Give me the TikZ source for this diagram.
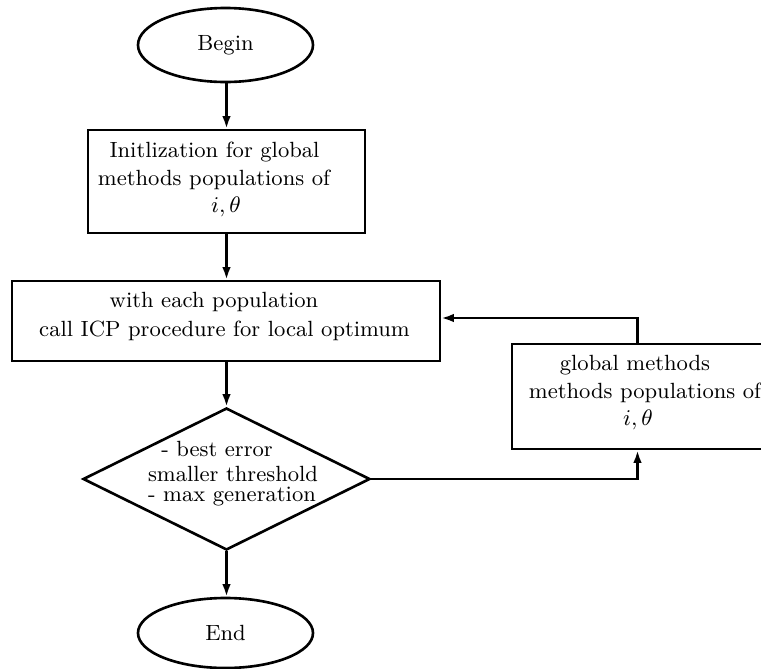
\documentclass[tikz,border=0pt]{standalone}
\usetikzlibrary{shapes.geometric,arrows.meta}
\begin{document}
\begin{tikzpicture}[x=0.4pt,y=-0.4pt,
  every node/.style={font=\fontsize{8.8}{10.5}\selectfont},
  term/.style={draw,ellipse,line width=1.05pt,inner sep=0pt},
  proc/.style={draw,rectangle,line width=1.05pt,inner sep=0pt},
  decis/.style={draw,diamond,line width=1.05pt,inner sep=0pt},
  txt/.style={anchor=base,inner sep=0pt},
  conn/.style={line width=0.95pt,-{Latex[length=5pt,width=3.4pt]}}]
\useasboundingbox (0,0) rectangle (761,668);
% shapes
\node[term,minimum width=70pt,minimum height=29.6pt] (begin) at (225.5,45) {Begin};
\node[proc,minimum width=110.8pt,minimum height=41.2pt] (init) at (226.5,181.5) {};
\node[proc,minimum width=171.2pt,minimum height=32pt] (icp) at (226,321) {};
\node[decis,minimum width=114.8pt,minimum height=56.8pt] (dec) at (226.5,479) {};
\node[proc,minimum width=100.4pt,minimum height=42pt] (glob) at (637.5,396.5) {};
\node[term,minimum width=70pt,minimum height=28pt] (end) at (225.5,633) {End};
% texts
\node[txt] (init1) at (214.5,157) {Initlization for global};
\node[txt] (init2) at (214,185.5) {methods populations of};
\node[txt] (init3) at (226,212.5) {$i,\theta$};
\node[txt] (icp1) at (214,307.3) {with each population};
\node[txt] (icp2) at (224.5,336.7) {call ICP procedure for local optimum};
\node[txt] (dec1) at (217,456.7) {- best error};
\node[txt] (dec2) at (233,481.7) {smaller threshold};
\node[txt] (dec3) at (232,501.7) {- max generation};
\node[txt] (glob1) at (635,370) {global methods};
\node[txt] (glob2) at (645,398) {methods populations of};
\node[txt] (glob3) at (638,425) {$i,\theta$};
% connectors
\coordinate (axis) at (226.5,0);
\coordinate (loopin) at (440,318);
\draw[conn] (axis |- begin.south) -- (axis |- init.north);
\draw[conn] (axis |- init.south) -- (axis |- icp.north);
\draw[conn] (axis |- icp.south) -- (dec.north);
\draw[conn] (dec.south) -- (axis |- end.north);
\draw[conn] (glob.north) |- (icp.east |- loopin);
\draw[conn] (dec.east) -| (glob.south);
\end{tikzpicture}
\end{document}
